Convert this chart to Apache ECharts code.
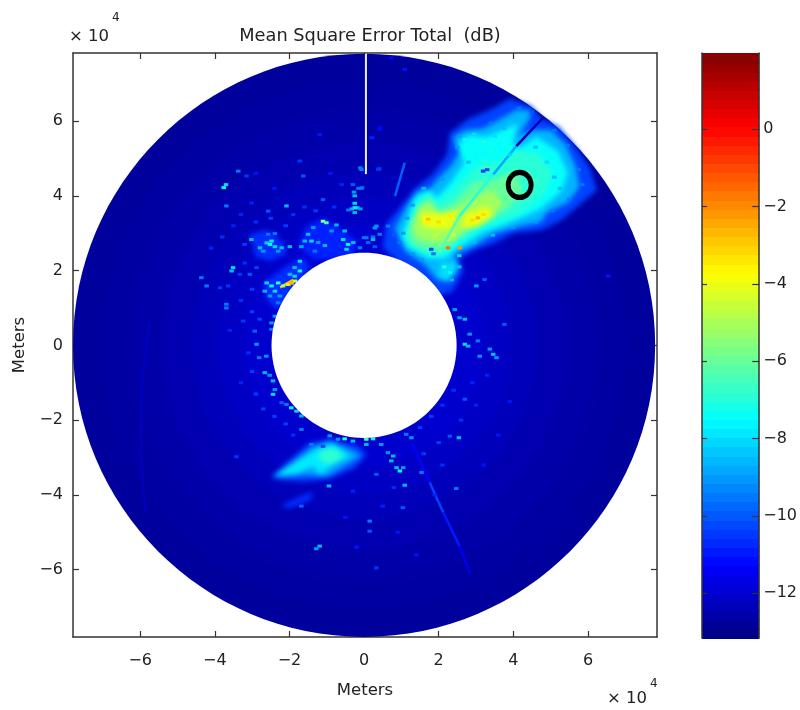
<!DOCTYPE html>
<html>
<head>
<meta charset="utf-8">
<style>
html,body{margin:0;padding:0;background:#fff}#c{width:800px;height:710px}
canvas[data-zr-dom-id="zr_1"]{filter:blur(2.4px)}
canvas[data-zr-dom-id="zr_2"]{filter:blur(.6px)}
</style>
<script src="https://cdn.jsdelivr.net/npm/echarts@6/dist/echarts.min.js"></script>
</head>
<body>
<div id="c"></div>
<script>
// All positions are in units of 10^4 metres, all values in dB.
const axisTicks = [-6, -4, -2, 0, 2, 4, 6];
const barTicks = [-12, -10, -8, -6, -4, -2, 0];
const barRange = [-13.16, 1.97];
const holeRadius = 2.48;
const sweepRadii = [7.8, 7.0, 6.2, 5.4, 4.6, 3.9, 3.2];
const sweepValues = [-12.75, -12.65, -12.55, -12.45, -12.3, -12.15, -12.0];

const plumeHalo = [[.6,3.25],[1,3.72],[1.35,4.18],[1.88,4.62],[2.22,5.1],[2.3,5.68],[2.78,6.05],[3.42,6.32],[3.9,6.6],[4.48,6.4],[4.78,6.05],[5.22,5.85],[5.68,5.3],[6.05,4.75],[6.24,4.15],[5.85,3.82],[5.3,3.36],[4.75,3.08],[4,3],[3.46,2.72],[2.95,2.55],[2.55,2.3],[2.66,2],[2.38,1.45],[1.94,1.3],[1,2.15],[.5,2.62]];
const plumeAzure = [[.82,3.12],[1.17,3.78],[1.45,4.14],[1.78,4.2],[1.95,4.42],[2.3,4.78],[2.55,5.15],[2.38,5.56],[2.72,5.76],[3.19,5.8],[3.68,6.07],[4.08,6.3],[4.48,6.28],[4.38,5.95],[4.12,5.62],[4.53,5.76],[5,5.76],[5.4,5.38],[5.67,4.8],[5.77,4.24],[5.47,3.83],[4.92,3.56],[4.73,3.29],[4.08,3.16],[3.46,2.98],[2.95,2.66],[2.42,2.44],[2.55,2.1],[2.25,1.68],[1.94,1.77],[1.62,2.16],[1.1,2.52]];
const plumeCyan = [[1,2.92],[1.36,3.96],[1.72,4.16],[1.96,3.97],[2.3,4.33],[2.68,4.88],[2.5,5.36],[2.8,5.62],[3.28,5.58],[3.72,5.76],[4.12,5.94],[3.98,5.42],[4.17,5.28],[4.62,5.58],[5.2,5.2],[5.46,4.62],[5.3,4.12],[4.74,3.65],[4.35,3.47],[3.72,3.2],[3.19,3.02],[2.5,2.58],[2.15,2.32],[1.74,2.32],[1.17,2.62]];
const plumeTeal = [[1.09,2.92],[1.41,3.78],[1.72,4.07],[1.91,3.8],[2.3,4.06],[2.74,4.52],[3.19,4.95],[3.55,4.87],[4.08,5.23],[4.65,5.13],[5.05,4.64],[4.87,4.13],[4.57,3.83],[4.1,3.47],[3.57,3.29],[3.03,3.11],[2.42,2.67],[2.05,2.41],[1.65,2.41],[1.17,2.7]];
const plumeGreen = [[1.17,3.02],[1.41,3.7],[1.76,3.98],[2,3.63],[2.39,3.8],[2.92,4.34],[3.46,4.43],[4.12,4.7],[4.24,4.06],[3.85,3.65],[3.4,3.42],[2.77,3.02],[2.14,2.58],[1.76,2.58],[1.36,2.68]];
const plumeLime = [[1.3,3.19],[1.5,3.7],[1.8,3.8],[2,3.45],[2.43,3.63],[2.97,3.98],[3.48,4.16],[3.7,3.72],[3.32,3.42],[2.68,3.11],[2.33,2.75],[1.85,2.75],[1.45,2.85]];
const plumeYellowA = [[1.5,3.54],[2.12,3.54],[2.52,3.63],[2.35,3.12],[1.85,3.1],[1.52,3.22]];
const plumeYellowB = [[2.7,3.52],[3.28,3.72],[3.52,3.48],[3.03,3.16],[2.6,3.12]];
const plumeTail = [[2.03,2.21],[2.48,2.21],[2.48,1.95],[2.2,1.7],[2,1.85]];
const southHalo = [[-2.5,-3.52],[-2.02,-3.08],[-1.48,-2.62],[-.92,-2.5],[-.18,-2.68],[.08,-2.91],[-.27,-3.3],[-.92,-3.56],[-1.54,-3.65],[-2.3,-3.6]];
const southAzure = [[-2.44,-3.5],[-1.92,-3.12],[-1.41,-2.72],[-.92,-2.56],[-.27,-2.82],[-.07,-2.96],[-.53,-3.24],[-1.01,-3.52],[-1.54,-3.47],[-2.08,-3.52]];
const southCyan = [[-2.38,-3.47],[-1.83,-3.12],[-1.28,-2.77],[-.83,-2.63],[-.33,-2.96],[-.83,-3.2],[-1.19,-3.46],[-1.37,-3.24],[-1.81,-3.42]];
const southTeal = [[-1.12,-2.77],[-.72,-2.77],[-.56,-3],[-.92,-3.2],[-1.24,-3.03]];
const southFaint = [[-2.25,-4.3],[-1.81,-4.08],[-1.35,-3.9],[-1.45,-4.15],[-2,-4.36]];
const patchNorth = [[-1.77,2.65],[-1.54,3.19],[-1.1,3.41],[-.65,3.14],[-.2,2.79],[-.29,2.3],[-.83,2.3],[-1.36,2.3]];
const patchWest = [[-3.06,2.97],[-2.6,3.1],[-2.2,2.8],[-2.05,2.45],[-2.5,2.25],[-2.9,2.35]];
const patchHole = [[-2.7,1.67],[-2.08,2.12],[-1.63,2.34],[-1.45,2.12],[-1.9,1.3],[-2.35,.96],[-2.61,1.23]];

const contourValues = [-10.3, -8.6, -7.4, -6.9, -6.0, -5.1, -4.0, -4.0, -8, -10.3, -8.9, -7.8, -6.8, -10.6, -10.8, -10.6, -10.6];
const contourShapes = [plumeHalo, plumeAzure, plumeCyan, plumeTeal, plumeGreen, plumeLime, plumeYellowA, plumeYellowB, plumeTail, southHalo, southAzure, southCyan, southTeal, southFaint, patchNorth, patchWest, patchHole];

const streakValues = [-12.4, -8.8, -7, -6.2, -9.9, -11.3, -10.3, -10.9, -11.6, -12.2, -2.6];
const streakPaths = [
  [[4.8,6.09],[4.08,5.33]], [[4.08,5.33],[3.46,4.57]], [[3.46,4.57],[2.56,3.46]], [[2.56,3.46],[2,2.48]],
  [[.83,3.99],[1.09,4.89]],
  [[1.27,-2.6],[1.76,-3.67]], [[1.76,-3.67],[2.12,-4.47]], [[2.12,-4.47],[2.56,-5.37]], [[2.56,-5.37],[2.84,-6.1]],
  [[-5.75,.6],[-5.95,-1],[-6,-3],[-5.85,-4.5]],
  [[-2.25,1.55],[-1.9,1.75]]
];
const gapLine = [[.05,7.8],[.05,4.58]];
const circledPoint = [4.17, 4.29];

const specklesNorth = [[-.25,3.68,-7],[-.18,3.68,-8],[-.33,3.65,-8.5],[-.25,3.8,-8],[-.25,3.55,-8.5],[-.1,3.65,-9],[-.42,3.62,-9.5],[-.25,4,-8.5],[-.27,4.1,-9],[-.15,4.2,-9.5],[-.3,4.3,-10],[-.05,4.22,-10],[-.1,4.75,-9.5],[.4,4.72,-10],[-1.1,3.9,-10],[-1.63,4.53,-10],[-1.72,4.93,-10.5],[-3.76,4.22,-7.5],[-3.7,4.3,-8],[-3.37,4.66,-9.5],[-3.15,4.53,-10.5],[-3.69,3.73,-9.5],[-2.08,3.73,-8.5],[-2.57,3.59,-10],[-3.02,3.81,-10.8],[-1.19,5.64,-11],[.23,5.56,-11.2],[.42,5.83,-11.2],[.2,5.55,-10.8],[.42,5.78,-11.2],[1.09,7.38,-11],[.73,7.69,-11.2],[.38,4.71,-10.5]];
const specklesWest = [[-3.51,2.08,-8],[-3.55,1.99,-8.5],[-4.36,1.81,-9.5],[-4.22,1.59,-9.5],[-3.69,1.1,-9.5],[-3.69,1,-9.5],[-2.93,.38,-9.8],[-3.24,.65,-10.5],[-2.48,.6,-9],[-2.48,.43,-9.5],[-3.06,1.9,-10],[-3.33,1.9,-10.5],[-3.64,1.59,-10.5],[-3.86,1.54,-10.5],[-2.88,2.08,-10.3],[-2.61,2.74,-8],[-2.52,2.7,-7.5],[-2.39,2.64,-8],[-2.79,2.61,-8.5],[-3.02,2.83,-8.5],[-2.21,2.61,-8.5],[-1.99,2.64,-8.5],[-2.7,2.52,-9],[-2.48,2.79,-7.8],[-2.3,2.52,-9],[-2.57,2.97,-9.5],[-2.39,2.99,-9.5]];
const specklesHoleNW = [[-1.1,3.32,-5.5],[-1.01,3.28,-6.5],[-.74,3.22,-8.5],[-1.5,2.97,-8.5],[-1.36,3.15,-9],[-1.59,2.79,-8.5],[-1.41,2.79,-8],[-1.68,2.64,-8.8],[-1.23,2.75,-9],[-1.05,2.67,-8.5],[-.52,3.06,-8.5],[-.56,2.83,-8],[-.43,2.7,-7.5],[-.29,2.75,-8.5],[-.47,2.57,-8],[-.87,3.06,-9],[-1.32,2.52,-9.5],[.33,3.19,-9],[0,2.88,-9.5],[.24,2.9,-9.5],[.11,2.75,-9.8],[.29,2.64,-10],[-.11,2.61,-9.5],[-1.72,2.25,-8],[-1.86,2.08,-8.5],[-1.72,1.99,-7.5],[-1.99,1.9,-8.5],[-1.86,1.85,-8],[-2.61,1.67,-8],[-2.48,1.59,-7.5],[-2.66,1.45,-8.5],[-2.39,1.45,-8],[-2.52,1.32,-9],[-2.26,1.32,-9],[-2.3,1.67,-7],[-2.17,1.59,-5],[-2.03,1.63,-4],[-1.94,1.66,-2.5],[-1.85,1.72,-4.5],[-2.3,1.14,-9.5],[-2.39,.78,-9]];
const specklesSouth = [[-2.66,-.73,-8.5],[-2.53,-.8,-9],[-2.44,-.95,-8.5],[-2.44,-1.31,-8],[-2.39,-1.18,-9],[-2.88,.03,-9],[-2.62,-.29,-9],[-2.81,-.33,-9.5],[-1.95,-1.67,-7.5],[-1.81,-1.76,-8],[-1.68,-1.89,-8.5],[-2.08,-1.58,-9.5],[-2.21,-1.53,-10],[-1.68,-2.25,-9.5],[-1.41,-2.65,-9.5],[-.92,-2.42,-9],[-.7,-2.51,-9],[-.52,-2.5,-7],[-.3,-2.56,-8.5],[.06,-2.51,-6.5],[.24,-2.5,-7.5],[.06,-2.65,-8.5],[.46,-2.65,-9],[.64,-2.87,-9],[.78,-2.96,-8.5],[.73,-3.09,-8.5],[.96,-3.36,-7.5],[.87,-3.27,-8.5],[1.05,-3.27,-9],[1.13,-2.38,-9.5],[1.27,-2.47,-9],[1.09,-3.74,-8.5],[-.94,-3.76,-8.5],[2.47,-3.83,-9.5],[2.54,-2.47,-8.5],[1.54,-3.4,-9.5],[2.7,-1.44,-10],[2.3,-2.43,-10],[.15,-4.7,-9.5],[.15,-4.97,-10],[-1.19,-5.37,-8.5],[-1.28,-5.44,-9],[.33,-5.95,-10.5],[1.04,-4.34,-10],[-3.42,-2.98,-10.5],[-1.68,-4.3,-9.8],[.33,-3.45,-10]];
const specklesEast = [[2.7,.03,-8],[2.79,-.02,-8.5],[3.1,-.29,-9],[3.46,-.24,-8.5],[3.55,-.33,-9],[3.05,.12,-9.5],[2.7,.7,-8.5],[2.43,.96,-9],[2.56,.74,-9],[2.83,.3,-9],[3.37,-.1,-9],[3.76,.56,-10],[3.01,1.59,-9],[3.23,1.76,-10],[6.54,1.85,-11],[.29,3.14,-9],[.06,2.88,-9.5],[.42,2.97,-9.5],[.64,3.19,-9.5],[.24,2.83,-8.5],[-.07,4.2,-9.5],[-.07,4.7,-9.5]];
const specklesFaint = [[-4.1,2.6,-10.8],[-3.8,2.9,-10.6],[-3.5,3.2,-10.8],[-3.2,2.7,-10.4],[-3.3,3.5,-10.8],[-2.9,3.3,-10.6],[-2.5,3.4,-10.4],[-2.1,3.2,-10.4],[-1.9,3.5,-10.6],[-1.6,3.7,-10.6],[-1.3,3.6,-10.4],[-.8,3.7,-10.6],[-.6,4.3,-10.8],[-.9,4.6,-11],[-2.4,4.2,-11],[-2.9,4.6,-11],[-3.2,2.2,-10.6],[-3,1.5,-10.4],[-3.3,1.2,-10.6],[-3,.9,-10.4],[-2.8,.7,-10.4],[-3.6,.4,-10.8],[-3.1,-.2,-10.6],[-3,-.7,-10.4],[-3.3,-1,-10.8],[-2.9,-1.3,-10.4],[-2.7,-1.7,-10.4],[-2.4,-1.9,-10.4],[-2.1,-2.1,-10.4],[-1.9,-2.4,-10.6],[-1.1,-2.7,-10.2],[1.5,-2.2,-10.4],[1.8,-1.9,-10.4],[2.1,-1.6,-10.6],[2.4,-1.2,-10.6],[2.9,-1,-10.8],[3.3,-.8,-10.8],[3,-1.6,-10.8],[2.6,-2,-10.6],[2,-2.6,-10.4],[1.6,-2.9,-10.4],[2.1,-3.2,-10.6],[1.9,-4,-10.8],[.8,-3.8,-10.6],[.5,-4.3,-10.8],[-.3,-3.9,-10.8],[-.5,-4.6,-11],[-.2,-5.4,-11],[.9,-5,-11],[1.4,-5.6,-11],[3.2,-3.2,-11],[3.6,-2.4,-11],[3.9,-1.5,-11]];
const specklesPlume = [[2.57,2.61,-2.2],[2.25,2.61,-1.6],[3.05,3.41,-2.6],[1.72,3.37,-2.8],[1.8,2.57,-10.4],[1.86,2.45,-9.5],[3.19,4.66,-10.6],[3.3,4.7,-10.2],[2.7,5.5,-7.5],[2.95,5.65,-8],[3.2,5.45,-7],[3.5,5.6,-8],[3.75,5.8,-8.5],[3.95,6,-8.5],[3.4,5.2,-7],[3,5.1,-7.5],[2.8,4.9,-8.5],[3.65,5.25,-7.5],[3.9,5.1,-8],[1.05,3,-9],[.95,2.75,-9.5],[.8,2.95,-10],[1.15,3.4,-9],[1.3,3.75,-9],[1.6,4.2,-8.5],[2.1,4.45,-9],[2.5,5.3,-9],[2.55,5.6,-9],[3.4,5.95,-9.5],[4.15,6.35,-9.5],[4.5,6.25,-10],[5.1,5.75,-9.5],[5.45,5.35,-9.5],[5.75,4.7,-9.5],[5.85,4.3,-9.5],[5.5,3.9,-9.5],[5.05,3.6,-9.5],[4.6,3.3,-9],[4,3.15,-9],[3.45,2.95,-8.5],[2.95,2.75,-8.5],[2.55,2.4,-8],[2.55,2.1,-8.5],[2.3,1.95,-7.5],[2.15,2.1,-7],[2.35,1.75,-8.5],[1.9,2.1,-8.5],[1.55,2.3,-9],[1.3,2.45,-9],[4.6,5.3,-8.5],[4.9,4.9,-8],[5.1,4.5,-8.5],[5.25,4.2,-8.5],[4.4,4.6,-6.5],[4.6,4.4,-6.5],[4.2,4.9,-7],[3.9,4.2,-5.5],[3.6,3.85,-5],[2,3.3,-3.2],[2.3,3.45,-3.4],[1.7,3.3,-3.5],[2.9,3.35,-3.2],[3.2,3.5,-3.2],[1.6,3,-5],[1.9,2.95,-4.5],[2.4,2.95,-4.6],[1.3,3.3,-6]];

const jetStops = ['#000080','#0000ff','#0080ff','#00ffff','#80ff80','#ffff00','#ff8000','#ff0000','#800000'];
const textFont = 'DejaVu Sans';
const textColor = '#222';
const frameColor = '#333';

const barLevels = [];
for (let i = 0; i < 64; i++) barLevels.push(barRange[0] + (i + .5) * (barRange[1] - barRange[0]) / 64);

function frameAxis(extra) {
  return Object.assign({
    type: 'value',
    axisLine: { show: true, onZero: false, lineStyle: { color: frameColor, width: 1.5 } },
    axisTick: { show: true, inside: true, length: 6, customValues: axisTicks, lineStyle: { color: frameColor, width: 1.2 } },
    axisLabel: { show: false },
    splitLine: { show: false }
  }, extra);
}
const labelStyle = { show: true, fontFamily: textFont, fontSize: 16, color: textColor, formatter: v => String(v).replace('-', '\u2212') };
const nameStyle = { fontFamily: textFont, fontSize: 16.5, color: textColor };

const option = {
  animation: false,
  backgroundColor: '#fff',
  textStyle: { fontFamily: textFont },
  title: {
    text: 'Mean Square Error Total  (dB)', left: 365, top: 22, textAlign: 'center',
    textStyle: { fontFamily: textFont, fontSize: 17.8, fontWeight: 'normal', color: textColor }
  },
  grid: [
    { left: 73, top: 53, width: 584, height: 584 },
    { left: 702, top: 53, width: 58, height: 585 }
  ],
  xAxis: [
    frameAxis({ gridIndex: 0, position: 'bottom', min: -7.8, max: 7.85, axisLabel: Object.assign({ customValues: axisTicks, margin: 16 }, labelStyle), name: 'Meters', nameLocation: 'middle', nameGap: 45, nameTextStyle: nameStyle }),
    frameAxis({ gridIndex: 0, position: 'top', min: -7.8, max: 7.85 }),
    { gridIndex: 1, type: 'value', min: 0, max: 1, axisLine: { show: true, onZero: false, lineStyle: { color: frameColor } }, axisTick: { show: false }, axisLabel: { show: false }, splitLine: { show: false }, position: 'top' }
  ],
  yAxis: [
    frameAxis({ gridIndex: 0, position: 'left', min: -7.8, max: 7.82, axisLabel: Object.assign({ customValues: axisTicks, margin: 10 }, labelStyle), name: 'Meters', nameLocation: 'middle', nameGap: 44, nameTextStyle: nameStyle }),
    frameAxis({ gridIndex: 0, position: 'right', min: -7.8, max: 7.82 }),
    frameAxis({ gridIndex: 1, position: 'right', min: barRange[0], max: barRange[1], z: 5, axisTick: { show: true, inside: true, length: 7, customValues: barTicks, lineStyle: { color: frameColor, width: 1.2 } }, axisLabel: Object.assign({ customValues: barTicks, margin: 4, align: 'left' }, labelStyle) }),
    frameAxis({ gridIndex: 1, position: 'left', min: barRange[0], max: barRange[1], z: 5, axisTick: { show: true, inside: true, length: 5, customValues: barTicks, lineStyle: { color: frameColor, width: 1.2 } } })
  ],
  visualMap: { show: false, type: 'continuous', dimension: 0, min: barRange[0], max: barRange[1], seriesIndex: [0, 1, 2, 3, 4], inRange: { color: jetStops } },
  graphic: [
    { type: 'text', left: 69, top: 28, style: { text: '\u00d7 10', font: '16.5px "DejaVu Sans"', fill: textColor } },
    { type: 'text', left: 112, top: 12, style: { text: '4', font: '12px "DejaVu Sans"', fill: textColor } },
    { type: 'text', left: 607, top: 690, style: { text: '\u00d7 10', font: '16.5px "DejaVu Sans"', fill: textColor } },
    { type: 'text', left: 650, top: 678, style: { text: '4', font: '12px "DejaVu Sans"', fill: textColor } }
  ],
  series: [
    { // sweep disc
      type: 'custom', xAxisIndex: 0, yAxisIndex: 0, silent: true, z: 1,
      data: sweepValues.map((v, i) => [v, i]),
      renderItem: (params, api) => {
        const c = api.coord([0, 0]), r = api.size([sweepRadii[api.value(1)], sweepRadii[api.value(1)]]);
        const color = api.visual('color');
        return { type: 'ellipse', shape: { cx: c[0], cy: c[1], rx: r[0], ry: r[1] }, style: { fill: color, shadowBlur: api.value(1) ? 14 : 0, shadowColor: color } };
      }
    },
    { // contoured echo regions
      type: 'custom', xAxisIndex: 0, yAxisIndex: 0, silent: true, zlevel: 1,
      data: contourValues.map((v, i) => [v, i]),
      renderItem: (params, api) => ({
        type: 'polygon',
        shape: { points: contourShapes[api.value(1)].map(p => api.coord(p)) },
        style: { fill: api.visual('color') }
      })
    },
    { // narrow radial streaks
      type: 'custom', xAxisIndex: 0, yAxisIndex: 0, silent: true, zlevel: 2,
      data: streakValues.map((v, i) => [v, i]),
      renderItem: (params, api) => ({
        type: 'polyline',
        shape: { points: streakPaths[api.value(1)].map(p => api.coord(p)) },
        style: { fill: 'none', stroke: api.visual('color'), lineWidth: 2.5 }
      })
    },
    { // isolated speckle
      type: 'custom', xAxisIndex: 0, yAxisIndex: 0, silent: true, zlevel: 2,
      data: [].concat(specklesFaint, specklesNorth, specklesWest, specklesHoleNW, specklesSouth, specklesEast, specklesPlume).map(s => [s[2], s[0], s[1]]),
      renderItem: (params, api) => {
        const p = api.coord([api.value(1), api.value(2)]);
        return { type: 'rect', shape: { x: p[0] - 2.25, y: p[1] - 1.5, width: 4.5, height: 3 }, style: { fill: api.visual('color') } };
      }
    },
    { // colour bar
      type: 'custom', xAxisIndex: 2, yAxisIndex: 2, silent: true, z: 1,
      data: barLevels.map((v, i) => [v, i]),
      renderItem: (params, api) => {
        const v = api.value(0), half = (barRange[1] - barRange[0]) / 128;
        const a = api.coord([0, v + half]), b = api.coord([1, v - half]);
        return { type: 'rect', shape: { x: a[0], y: Math.floor(a[1]), width: b[0] - a[0], height: Math.ceil(b[1] - a[1]) + 1 }, style: { fill: api.visual('color') } };
      }
    },
    { // blanked centre
      type: 'custom', xAxisIndex: 0, yAxisIndex: 0, silent: true, zlevel: 3,
      data: [[holeRadius]],
      renderItem: (params, api) => {
        const c = api.coord([0, 0]), r = api.size([api.value(0), api.value(0)]);
        return { type: 'ellipse', shape: { cx: c[0], cy: c[1], rx: r[0], ry: r[1] }, style: { fill: '#fff' } };
      }
    },
    {
      type: 'line', xAxisIndex: 0, yAxisIndex: 0, silent: true, symbol: 'none', zlevel: 3,
      data: gapLine, lineStyle: { color: '#e8ecff', width: 2 }
    },
    {
      type: 'scatter', xAxisIndex: 0, yAxisIndex: 0, silent: true, zlevel: 3,
      data: [circledPoint], symbol: 'circle', symbolSize: [23, 25],
      itemStyle: { color: 'rgba(0,0,0,0)', borderColor: '#000', borderWidth: 5, opacity: 1 }
    }
  ]
};
echarts.init(document.getElementById('c'), null, { renderer: 'canvas' }).setOption(option);
</script>
</body>
</html>
